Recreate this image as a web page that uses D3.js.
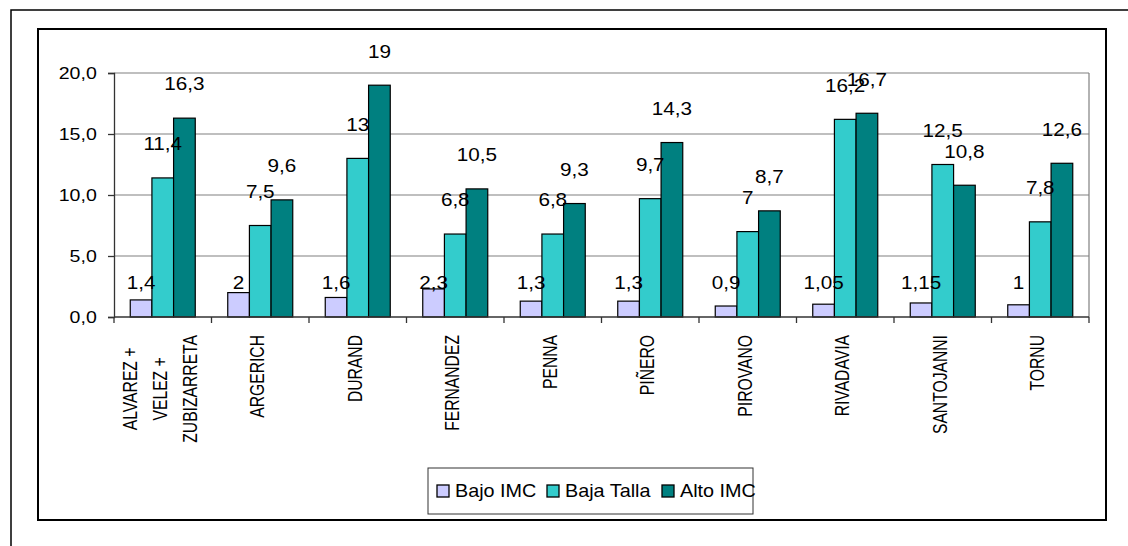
<!DOCTYPE html>
<html>
<head>
<meta charset="utf-8">
<script src="https://cdn.jsdelivr.net/npm/d3@7"></script>
<style>
  body { margin: 0; background: #fff; }
  svg { display: block; }
  text { font-family: "Liberation Sans", Arial, sans-serif; fill: #000; }
</style>
</head>
<body>
<div id="chart"></div>
<script>
// data
const hospitals = [
  'ALVAREZ +\nVELEZ +\nZUBIZARRETA', 'ARGERICH', 'DURAND', 'FERNANDEZ', 'PENNA',
  'PIÑERO', 'PIROVANO', 'RIVADAVIA', 'SANTOJANNI', 'TORNU'
];
const seriesNames = ['Bajo IMC', 'Baja Talla', 'Alto IMC'];
const seriesColors = ['#ccccff', '#33cccc', '#008080'];
const bajoImc = [1.4, 2, 1.6, 2.3, 1.3, 1.3, 0.9, 1.05, 1.15, 1];
const bajaTalla = [11.4, 7.5, 13, 6.8, 6.8, 9.7, 7, 16.2, 12.5, 7.8];
const altoImc = [16.3, 9.6, 19, 10.5, 9.3, 14.3, 8.7, 16.7, 10.8, 12.6];
const yTicks = [0, 5, 10, 15, 20];

const width = 1128;
const height = 546;
const plot = { left: 114, right: 1089, top: 73, bottom: 317 };
const sx = 1.15; // the original image is stretched sideways

const series = [bajoImc, bajaTalla, altoImc];
const comma = v => String(v).replace('.', ',');
const fmtTick = v => d3.format('.1f')(v).replace('.', ',');

const svg = d3
  .select('#chart')
  .append('svg')
  .attr('width', width)
  .attr('height', height);

// outer frame (only top and left visible)
svg.append('path')
  .attr('d', `M11,${height} V10 H${width}`)
  .attr('fill', 'none')
  .attr('stroke', '#000')
  .attr('stroke-width', 1.5);

// chart area box
svg.append('rect')
  .attr('x', 38).attr('y', 29)
  .attr('width', 1068).attr('height', 491)
  .attr('fill', '#fff')
  .attr('stroke', '#000')
  .attr('stroke-width', 2);

const x = d3.scaleBand()
  .domain(d3.range(hospitals.length))
  .range([plot.left, plot.right]);

const x1 = d3.scaleBand()
  .domain(d3.range(series.length))
  .range([0, x.bandwidth()])
  .paddingInner(0)
  .paddingOuter(0.75);

const y = d3.scaleLinear()
  .domain([0, 20])
  .range([plot.bottom, plot.top]);

// gridlines
svg.append('g')
  .selectAll('line')
  .data(yTicks.filter(d => d > 0))
  .enter()
  .append('line')
  .attr('x1', plot.left).attr('x2', plot.right)
  .attr('y1', d => y(d)).attr('y2', d => y(d))
  .attr('stroke', '#808080')
  .attr('stroke-width', 1.2);

// plot border on the right
svg.append('line')
  .attr('x1', plot.right).attr('x2', plot.right)
  .attr('y1', y(20)).attr('y2', y(0))
  .attr('stroke', '#808080')
  .attr('stroke-width', 1.2);

// bars
const groups = svg.append('g')
  .selectAll('g')
  .data(hospitals.map((h, i) => i))
  .enter()
  .append('g')
  .attr('transform', i => `translate(${x(i)},0)`);

groups.selectAll('rect')
  .data(i => series.map((s, k) => ({ k, v: s[i] })))
  .enter()
  .append('rect')
  .attr('x', d => x1(d.k))
  .attr('y', d => y(d.v))
  .attr('width', x1.bandwidth())
  .attr('height', d => y(0) - y(d.v))
  .attr('fill', d => seriesColors[d.k])
  .attr('stroke', '#000')
  .attr('stroke-width', 1.2);

// y axis
const yAxis = svg.append('g')
  .attr('transform', `translate(${plot.left},0)`)
  .call(d3.axisLeft(y).tickValues(yTicks).tickSize(6).tickFormat(fmtTick));
yAxis.select('.domain').attr('stroke', '#333').attr('stroke-width', 1.3);
yAxis.selectAll('.tick line').attr('stroke', '#333').attr('stroke-width', 1.3);
yAxis.selectAll('.tick text')
  .attr('x', -15)
  .attr('dy', '0.32em')
  .attr('font-size', 17)
  .attr('font-family', '"Liberation Sans", Arial, sans-serif')
  .attr('fill', '#000')
  .attr('transform', `scale(${sx},1)`);

// x axis
svg.append('line')
  .attr('x1', plot.left).attr('x2', plot.right)
  .attr('y1', y(0)).attr('y2', y(0))
  .attr('stroke', '#333')
  .attr('stroke-width', 1.3);

svg.append('g')
  .selectAll('line')
  .data(d3.range(hospitals.length + 1))
  .enter()
  .append('line')
  .attr('x1', i => plot.left + i * x.step())
  .attr('x2', i => plot.left + i * x.step())
  .attr('y1', y(0)).attr('y2', y(0) + 6)
  .attr('stroke', '#333')
  .attr('stroke-width', 1.3);

// category labels, rotated
const labelTop = 335;
hospitals.forEach((name, i) => {
  const lines = name.split('\n');
  const cx = x(i) + x.bandwidth() / 2 - 3;
  const lineGap = 30;
  const g = svg.append('g');
  const texts = lines.map((ln, j) => {
    const lx = cx + (j - (lines.length - 1) / 2) * lineGap;
    return g.append('text')
      .attr('text-anchor', 'middle')
      .attr('dy', '0.35em')
      .attr('font-size', 15.7)
      .attr('data-x', lx)
      .text(ln);
  });
  const maxLen = d3.max(texts, t => t.node().getComputedTextLength());
  texts.forEach(t => {
    t.attr('transform',
      `translate(${t.attr('data-x')},${labelTop + maxLen / 2}) scale(1.3,1) rotate(-90)`);
  });
});

// data labels
series.forEach((s, k) => {
  svg.append('g')
    .selectAll('text')
    .data(s.map((v, i) => ({ v, i })))
    .enter()
    .append('text')
    .attr('text-anchor', 'middle')
    .attr('dy', '0.35em')
    .attr('font-size', 18)
    .attr('transform', d => {
      const bx = x(d.i) + x1(k) + x1.bandwidth() / 2;
      // the Bajo IMC labels all sit at the same height in the original
      const by = (k === 0 ? y(0) : y(d.v)) - 34;
      return `translate(${bx},${by}) scale(${sx},1)`;
    })
    .text(d => comma(d.v));
});

// legend
const legend = svg.append('g');
legend.append('rect')
  .attr('x', 428).attr('y', 468)
  .attr('width', 325).attr('height', 46)
  .attr('fill', '#fff')
  .attr('stroke', '#333')
  .attr('stroke-width', 1);

const legendX = [437, 547, 662];
seriesNames.forEach((n, k) => {
  legend.append('rect')
    .attr('x', legendX[k]).attr('y', 485)
    .attr('width', 12).attr('height', 12)
    .attr('fill', seriesColors[k])
    .attr('stroke', '#000')
    .attr('stroke-width', 1.3);
  legend.append('text')
    .attr('transform', `translate(${legendX[k] + 18},491) scale(1.1,1)`)
    .attr('dy', '0.35em')
    .attr('font-size', 18)
    .text(n);
});
</script>
</body>
</html>
